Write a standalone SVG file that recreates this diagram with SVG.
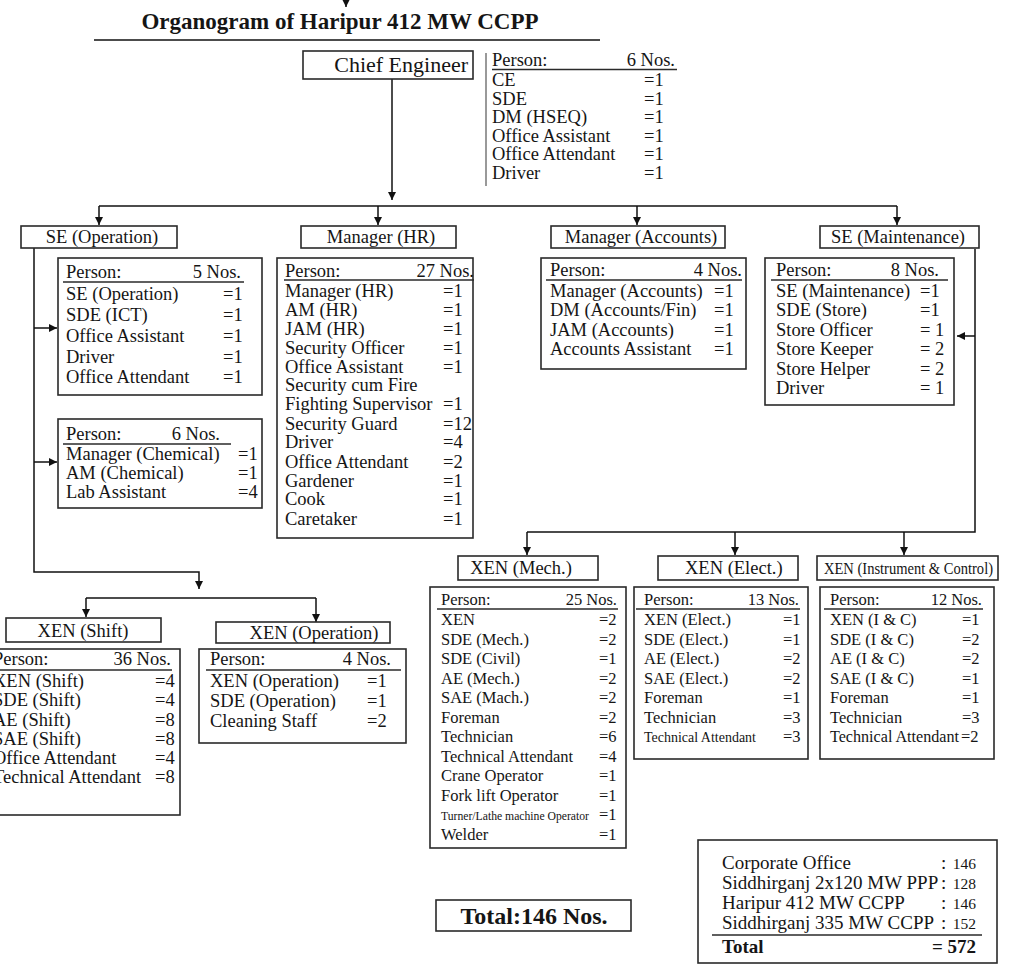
<svg xmlns="http://www.w3.org/2000/svg" width="1017" height="966" viewBox="0 0 1017 966">
<style>
text{font-family:"Liberation Serif","Times New Roman",serif;fill:#151515}
.box{fill:#fff;stroke:#2a2a2a;stroke-width:1.6}
.hd{font-size:18.5px}
.tb{font-size:18.5px}
.sm{font-size:16.5px}
.sv{font-size:19px}
.nm{font-size:15.5px;text-anchor:end}
.ul{stroke:#2a2a2a;stroke-width:1.3}
.cn{fill:none;stroke:#111;stroke-width:1.5}
.e{text-anchor:end}
.m{text-anchor:middle}
.b{font-weight:bold}
</style>
<defs>
<marker id="ah" markerUnits="userSpaceOnUse" markerWidth="9" markerHeight="9" refX="8" refY="4" orient="auto">
<path d="M0,0 L8,4 L0,8 z" fill="#111"/>
</marker>
</defs>
<rect width="1017" height="966" fill="#fff"/>

<g id="title">
<text x="340" y="29" class="m b" style="font-size:23px">Organogram of Haripur 412 MW CCPP</text>
<line x1="94" y1="40" x2="600" y2="40" stroke="#111" stroke-width="1.6"/>
</g>

<g id="connectors">
<line class="cn" x1="346" y1="0" x2="346" y2="7" marker-end="url(#ah)"/>
<line class="cn" x1="392" y1="79" x2="392" y2="200" marker-end="url(#ah)"/>
<line class="cn" x1="99" y1="206" x2="897" y2="206"/>
<line class="cn" x1="99" y1="206" x2="99" y2="225" marker-end="url(#ah)"/>
<line class="cn" x1="378" y1="206" x2="378" y2="225" marker-end="url(#ah)"/>
<line class="cn" x1="637" y1="206" x2="637" y2="225" marker-end="url(#ah)"/>
<line class="cn" x1="897" y1="206" x2="897" y2="225" marker-end="url(#ah)"/>
<path class="cn" d="M34,248 V572 H199 V589" marker-end="url(#ah)"/>
<line class="cn" x1="34" y1="328" x2="57" y2="328" marker-end="url(#ah)"/>
<line class="cn" x1="34" y1="462" x2="57" y2="462" marker-end="url(#ah)"/>
<line class="cn" x1="86" y1="598" x2="316" y2="598"/>
<line class="cn" x1="86" y1="598" x2="86" y2="617" marker-end="url(#ah)"/>
<line class="cn" x1="316" y1="598" x2="316" y2="622" marker-end="url(#ah)"/>
<path class="cn" d="M975,249 V532 H527"/>
<line class="cn" x1="975" y1="336" x2="957" y2="336" marker-end="url(#ah)"/>
<line class="cn" x1="527" y1="532" x2="527" y2="555" marker-end="url(#ah)"/>
<line class="cn" x1="735" y1="532" x2="735" y2="555" marker-end="url(#ah)"/>
<line class="cn" x1="904" y1="532" x2="904" y2="555" marker-end="url(#ah)"/>
</g>

<g id="chief-engineer">
<rect class="box" x="303" y="51" width="170" height="28"/>
<text x="468" y="72" class="e" style="font-size:22px">Chief Engineer</text>
</g>

<g id="ce-staff">
<line x1="486" y1="53" x2="486" y2="186" stroke="#777" stroke-width="1.5"/>
<text x="492" y="66" class="tb">Person:</text>
<text x="675" y="66" class="tb e">6 Nos.</text>
<line class="ul" x1="492" y1="69.5" x2="677" y2="69.5"/>
<text x="492" y="86" class="tb">CE</text><text x="644" y="86" class="tb">=1</text>
<text x="492" y="104.5" class="tb">SDE</text><text x="644" y="104.5" class="tb">=1</text>
<text x="492" y="123" class="tb">DM (HSEQ)</text><text x="644" y="123" class="tb">=1</text>
<text x="492" y="141.5" class="tb">Office Assistant</text><text x="644" y="141.5" class="tb">=1</text>
<text x="492" y="160" class="tb">Office Attendant</text><text x="644" y="160" class="tb">=1</text>
<text x="492" y="178.5" class="tb">Driver</text><text x="644" y="178.5" class="tb">=1</text>
</g>

<g id="se-operation">
<rect class="box" x="21" y="226" width="156" height="22"/>
<text x="102" y="243" class="hd m">SE (Operation)</text>
</g>

<g id="se-operation-staff">
<rect class="box" x="58" y="258" width="204" height="137"/>
<text x="66" y="278" class="tb">Person:</text>
<text x="241" y="278" class="tb e">5 Nos.</text>
<line class="ul" x1="63" y1="282" x2="244" y2="282"/>
<text x="66" y="300" class="tb">SE (Operation)</text><text x="223" y="300" class="tb">=1</text>
<text x="66" y="321" class="tb">SDE (ICT)</text><text x="223" y="321" class="tb">=1</text>
<text x="66" y="342" class="tb">Office Assistant</text><text x="223" y="342" class="tb">=1</text>
<text x="66" y="363" class="tb">Driver</text><text x="223" y="363" class="tb">=1</text>
<text x="66" y="383" class="tb">Office Attendant</text><text x="223" y="383" class="tb">=1</text>
</g>

<g id="chemical-staff">
<rect class="box" x="58" y="419" width="204" height="89"/>
<text x="66" y="440" class="tb">Person:</text>
<text x="220" y="440" class="tb e">6 Nos.</text>
<line class="ul" x1="63" y1="444" x2="231" y2="444"/>
<text x="66" y="460" class="tb">Manager (Chemical)</text><text x="238" y="460" class="tb">=1</text>
<text x="66" y="479" class="tb">AM (Chemical)</text><text x="238" y="479" class="tb">=1</text>
<text x="66" y="498" class="tb">Lab Assistant</text><text x="238" y="498" class="tb">=4</text>
</g>

<g id="manager-hr">
<rect class="box" x="301" y="226" width="155" height="22"/>
<text x="381" y="243" class="hd m">Manager (HR)</text>
</g>

<g id="hr-staff">
<rect class="box" x="277" y="258" width="196" height="280"/>
<text x="285" y="277" class="tb">Person:</text>
<text x="474" y="277" class="tb e">27 Nos.</text>
<line class="ul" x1="284" y1="280" x2="474" y2="280"/>
<text x="285" y="297" class="tb">Manager (HR)</text><text x="443" y="297" class="tb">=1</text>
<text x="285" y="316" class="tb">AM (HR)</text><text x="443" y="316" class="tb">=1</text>
<text x="285" y="335" class="tb">JAM (HR)</text><text x="443" y="335" class="tb">=1</text>
<text x="285" y="354" class="tb">Security Officer</text><text x="443" y="354" class="tb">=1</text>
<text x="285" y="373" class="tb">Office Assistant</text><text x="443" y="373" class="tb">=1</text>
<text x="285" y="391" class="tb">Security cum Fire</text>
<text x="285" y="410" class="tb">Fighting Supervisor</text><text x="443" y="410" class="tb">=1</text>
<text x="285" y="430" class="tb">Security Guard</text><text x="443" y="430" class="tb">=12</text>
<text x="285" y="448" class="tb">Driver</text><text x="443" y="448" class="tb">=4</text>
<text x="285" y="468" class="tb">Office Attendant</text><text x="443" y="468" class="tb">=2</text>
<text x="285" y="487" class="tb">Gardener</text><text x="443" y="487" class="tb">=1</text>
<text x="285" y="505" class="tb">Cook</text><text x="443" y="505" class="tb">=1</text>
<text x="285" y="525" class="tb">Caretaker</text><text x="443" y="525" class="tb">=1</text>
</g>

<g id="manager-accounts">
<rect class="box" x="551" y="226" width="174" height="22"/>
<text x="641" y="243" class="hd m">Manager (Accounts)</text>
</g>

<g id="accounts-staff">
<rect class="box" x="541" y="258" width="205" height="111"/>
<text x="550" y="276" class="tb">Person:</text>
<text x="742" y="276" class="tb e">4 Nos.</text>
<line class="ul" x1="546" y1="280" x2="742" y2="280"/>
<text x="550" y="297" class="tb">Manager (Accounts)</text><text x="714" y="297" class="tb">=1</text>
<text x="550" y="316" class="tb">DM (Accounts/Fin)</text><text x="714" y="316" class="tb">=1</text>
<text x="550" y="336" class="tb">JAM (Accounts)</text><text x="714" y="336" class="tb">=1</text>
<text x="550" y="355" class="tb">Accounts Assistant</text><text x="714" y="355" class="tb">=1</text>
</g>

<g id="se-maintenance">
<rect class="box" x="820" y="226" width="159" height="22"/>
<text x="898" y="243" class="hd m">SE (Maintenance)</text>
</g>

<g id="maintenance-staff">
<rect class="box" x="765" y="258" width="189" height="147"/>
<text x="776" y="276" class="tb">Person:</text>
<text x="939" y="276" class="tb e">8 Nos.</text>
<line class="ul" x1="771" y1="280" x2="948" y2="280"/>
<text x="776" y="297" class="tb">SE (Maintenance)</text><text x="920" y="297" class="tb">=1</text>
<text x="776" y="316" class="tb">SDE (Store)</text><text x="920" y="316" class="tb">=1</text>
<text x="776" y="336" class="tb">Store Officer</text><text x="920" y="336" class="tb">= 1</text>
<text x="776" y="355" class="tb">Store Keeper</text><text x="920" y="355" class="tb">= 2</text>
<text x="776" y="375" class="tb">Store Helper</text><text x="920" y="375" class="tb">= 2</text>
<text x="776" y="394" class="tb">Driver</text><text x="920" y="394" class="tb">= 1</text>
</g>

<g id="xen-shift">
<rect class="box" x="6" y="618" width="155" height="24"/>
<text x="83" y="637" class="hd m">XEN (Shift)</text>
</g>

<g id="shift-staff">
<rect class="box" x="-5" y="649" width="185" height="166"/>
<text x="-7" y="665" class="tb">Person:</text>
<text x="171" y="665" class="tb e">36 Nos.</text>
<line class="ul" x1="-5" y1="670" x2="172" y2="670"/>
<text x="-7" y="687" class="tb">XEN (Shift)</text><text x="155" y="687" class="tb">=4</text>
<text x="-7" y="706" class="tb">SDE (Shift)</text><text x="155" y="706" class="tb">=4</text>
<text x="-7" y="726" class="tb">AE (Shift)</text><text x="155" y="726" class="tb">=8</text>
<text x="-7" y="745" class="tb">SAE (Shift)</text><text x="155" y="745" class="tb">=8</text>
<text x="-7" y="764" class="tb">Office Attendant</text><text x="155" y="764" class="tb">=4</text>
<text x="-7" y="783" class="tb">Technical Attendant</text><text x="155" y="783" class="tb">=8</text>
</g>

<g id="xen-operation">
<rect class="box" x="216" y="622" width="174" height="21"/>
<text x="314" y="639" class="hd m">XEN (Operation)</text>
</g>

<g id="xen-operation-staff">
<rect class="box" x="199" y="649" width="207" height="94"/>
<text x="210" y="665" class="tb">Person:</text>
<text x="391" y="665" class="tb e">4 Nos.</text>
<line class="ul" x1="206" y1="670" x2="401" y2="670"/>
<text x="210" y="687" class="tb">XEN (Operation)</text><text x="367" y="687" class="tb">=1</text>
<text x="210" y="707" class="tb">SDE (Operation)</text><text x="367" y="707" class="tb">=1</text>
<text x="210" y="727" class="tb">Cleaning Staff</text><text x="367" y="727" class="tb">=2</text>
</g>

<g id="xen-mech">
<rect class="box" x="458" y="556" width="140" height="24"/>
<text x="521" y="574" class="hd m">XEN (Mech.)</text>
</g>

<g id="mech-staff">
<rect class="box" x="430" y="587" width="196" height="261"/>
<text x="441" y="605" class="sm">Person:</text>
<text x="617" y="605" class="sm e">25 Nos.</text>
<line class="ul" x1="437" y1="609" x2="618" y2="609"/>
<text x="441" y="625" class="sm">XEN</text><text x="599" y="625" class="sm">=2</text>
<text x="441" y="644.5" class="sm">SDE (Mech.)</text><text x="599" y="644.5" class="sm">=2</text>
<text x="441" y="664" class="sm">SDE (Civil)</text><text x="599" y="664" class="sm">=1</text>
<text x="441" y="683.5" class="sm">AE (Mech.)</text><text x="599" y="683.5" class="sm">=2</text>
<text x="441" y="703" class="sm">SAE (Mach.)</text><text x="599" y="703" class="sm">=2</text>
<text x="441" y="722.5" class="sm">Foreman</text><text x="599" y="722.5" class="sm">=2</text>
<text x="441" y="742" class="sm">Technician</text><text x="599" y="742" class="sm">=6</text>
<text x="441" y="761.5" class="sm">Technical Attendant</text><text x="599" y="761.5" class="sm">=4</text>
<text x="441" y="781" class="sm">Crane Operator</text><text x="599" y="781" class="sm">=1</text>
<text x="441" y="800.5" class="sm">Fork lift Operator</text><text x="599" y="800.5" class="sm">=1</text>
<text x="441" y="820" style="font-size:13.5px" textLength="148" lengthAdjust="spacingAndGlyphs">Turner/Lathe machine Operator</text><text x="599" y="820" class="sm">=1</text>
<text x="441" y="839.5" class="sm">Welder</text><text x="599" y="839.5" class="sm">=1</text>
</g>

<g id="xen-elect">
<rect class="box" x="658" y="556" width="140" height="24"/>
<text x="685" y="574" class="hd">XEN (Elect.)</text>
</g>

<g id="elect-staff">
<rect class="box" x="634" y="587" width="174" height="172"/>
<text x="644" y="605" class="sm">Person:</text>
<text x="799" y="605" class="sm e">13 Nos.</text>
<line class="ul" x1="636" y1="609" x2="800" y2="609"/>
<text x="644" y="625" class="sm">XEN (Elect.)</text><text x="783" y="625" class="sm">=1</text>
<text x="644" y="644.5" class="sm">SDE (Elect.)</text><text x="783" y="644.5" class="sm">=1</text>
<text x="644" y="664" class="sm">AE (Elect.)</text><text x="783" y="664" class="sm">=2</text>
<text x="644" y="683.5" class="sm">SAE (Elect.)</text><text x="783" y="683.5" class="sm">=2</text>
<text x="644" y="703" class="sm">Foreman</text><text x="783" y="703" class="sm">=1</text>
<text x="644" y="722.5" class="sm">Technician</text><text x="783" y="722.5" class="sm">=3</text>
<text x="644" y="742" style="font-size:15px" textLength="112" lengthAdjust="spacingAndGlyphs">Technical Attendant</text><text x="783" y="742" class="sm">=3</text>
</g>

<g id="xen-ic">
<rect class="box" x="817" y="556" width="181" height="24"/>
<text x="824" y="574" style="font-size:17.5px" textLength="169" lengthAdjust="spacingAndGlyphs">XEN (Instrument &amp; Control)</text>
</g>

<g id="ic-staff">
<rect class="box" x="820" y="587" width="174" height="172"/>
<text x="830" y="605" class="sm">Person:</text>
<text x="982" y="605" class="sm e">12 Nos.</text>
<line class="ul" x1="824" y1="609" x2="983" y2="609"/>
<text x="830" y="625" class="sm">XEN (I &amp; C)</text><text x="962" y="625" class="sm">=1</text>
<text x="830" y="644.5" class="sm">SDE (I &amp; C)</text><text x="962" y="644.5" class="sm">=2</text>
<text x="830" y="664" class="sm">AE (I &amp; C)</text><text x="962" y="664" class="sm">=2</text>
<text x="830" y="683.5" class="sm">SAE (I &amp; C)</text><text x="962" y="683.5" class="sm">=1</text>
<text x="830" y="703" class="sm">Foreman</text><text x="962" y="703" class="sm">=1</text>
<text x="830" y="722.5" class="sm">Technician</text><text x="962" y="722.5" class="sm">=3</text>
<text x="830" y="742" style="font-size:16px" textLength="129" lengthAdjust="spacingAndGlyphs">Technical Attendant</text><text x="961" y="742" class="sm">=2</text>
</g>

<g id="total">
<rect class="box" x="436" y="900" width="195" height="31"/>
<text x="534" y="924" class="m b" style="font-size:24px">Total:146 Nos.</text>
</g>

<g id="summary">
<rect class="box" x="698" y="840" width="299" height="123"/>
<text x="722" y="869" class="sv">Corporate Office</text><text x="941" y="869" class="sv">:</text><text x="976" y="869" class="nm">146</text>
<text x="722" y="889" class="sv">Siddhirganj 2x120 MW PPP</text><text x="941" y="889" class="sv">:</text><text x="976" y="889" class="nm">128</text>
<text x="722" y="909" class="sv">Haripur 412 MW CCPP</text><text x="941" y="909" class="sv">:</text><text x="976" y="909" class="nm">146</text>
<text x="722" y="929" class="sv">Siddhirganj 335 MW CCPP</text><text x="941" y="929" class="sv">:</text><text x="976" y="929" class="nm">152</text>
<line class="ul" x1="712" y1="935" x2="982" y2="935"/>
<text x="722" y="953" class="b sv">Total</text>
<text x="976" y="953" class="e b sv">= 572</text>
</g>
</svg>
